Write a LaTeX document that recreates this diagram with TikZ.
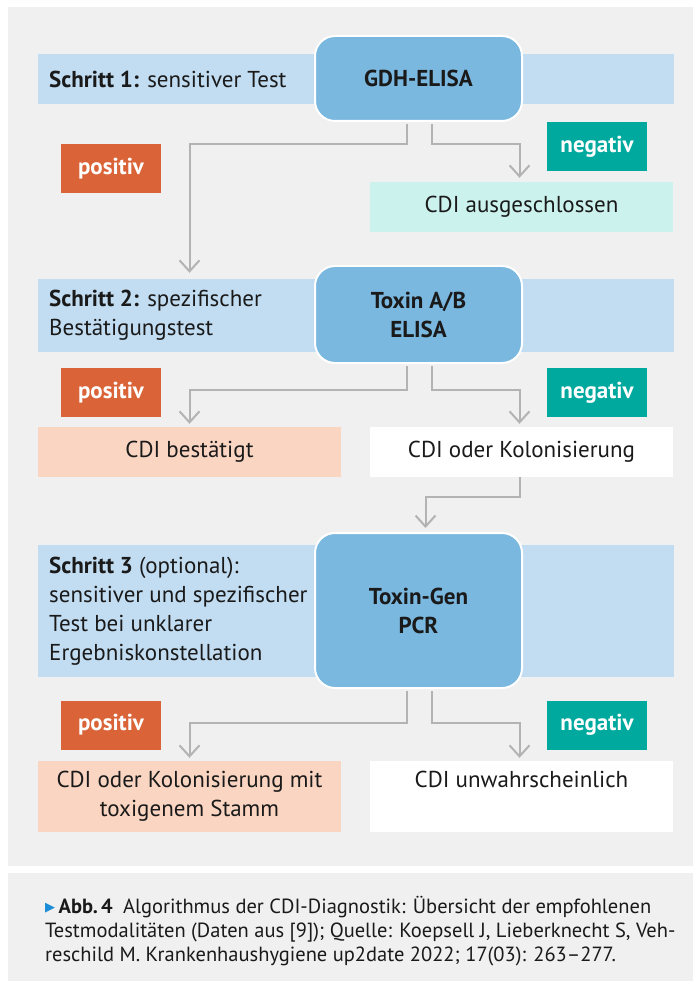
\documentclass[tikz,border=0pt]{standalone}
\usepackage{fontspec}
\setmainfont{PT Sans}
\newfontfamily\symfont{DejaVu Sans}
\usetikzlibrary{arrows.meta}
\definecolor{bggray}{HTML}{F0F0F0}
\definecolor{bandblue}{HTML}{C2DDF2}
\definecolor{boxblue}{HTML}{7AB8E0}
\definecolor{posorange}{HTML}{DA6438}
\definecolor{negteal}{HTML}{00A99E}
\definecolor{negcyan}{HTML}{CCF2EE}
\definecolor{pospeach}{HTML}{FAD5C2}
\definecolor{linegray}{HTML}{B3B3B3}
\definecolor{ink}{HTML}{1A1A1A}
\definecolor{capblue}{HTML}{1A8CD8}

\begin{document}
\begin{tikzpicture}[x=1pt,y=-1pt,
    band/.style={fill=bandblue, inner sep=0pt, minimum width=636pt},
    steptext/.style={anchor=west, align=left, inner sep=0pt, text=ink,
      font=\fontsize{23}{29}\selectfont},
    testbox/.style={fill=boxblue, draw=white, line width=2pt, rounded corners=20pt,
      minimum width=207pt, align=center, text=ink,
      font=\bfseries\fontsize{23}{29}\selectfont},
    tag/.style={minimum width=100pt, minimum height=49pt, inner sep=0pt,
      text=white, font=\bfseries\fontsize{23}{24}\selectfont},
    result/.style={minimum width=303pt, inner sep=0pt, align=center, text=ink,
      font=\fontsize{23}{29}\selectfont},
    conn/.style={draw=linegray, line width=2pt,
      -{Straight Barb[length=11pt,width=20pt]}}]
    \useasboundingbox (0,0) rectangle (693,981);
    \fill[bggray] (8,7) rectangle (693,866);
    \fill[bggray] (8,873) rectangle (693,981);

    % step bands
    \node[band, minimum height=50pt] (band1) at (356,79) {};
    \node[band, minimum height=73pt] (band2) at (356,315.5) {};
    \node[band, minimum height=132pt] (band3) at (356,611) {};
    \node[steptext] (step1) at (49,79) {\textbf{Schritt 1:} sensitiver Test};
    \node[steptext] (step2) at (49,315.5) {\textbf{Schritt 2:} spezifischer\\Bestätigungstest};
    \node[steptext] (step3) at (49,611) {\textbf{Schritt 3} (optional):\\sensitiver und spezifischer\\Test bei unklarer\\Ergebniskonstellation};

    % tests
    \node[testbox, minimum height=85pt] (gdh) at (418.5,78.5) {GDH-ELISA};
    \node[testbox, minimum height=97pt] (toxab) at (418.5,314.5) {Toxin A/B\\ELISA};
    \node[testbox, minimum height=155pt] (pcr) at (418.5,610.5) {Toxin-Gen\\PCR};

    % positiv / negativ
    \node[tag, fill=posorange] (pos1) at (111,168.5) {positiv};
    \node[tag, fill=negteal] (neg1) at (597,146.5) {negativ};
    \node[tag, fill=posorange] (pos2) at (111,392.5) {positiv};
    \node[tag, fill=negteal] (neg2) at (597,392.5) {negativ};
    \node[tag, fill=posorange] (pos3) at (111,725) {positiv};
    \node[tag, fill=negteal] (neg3) at (597,725) {negativ};

    % results
    \node[result, fill=negcyan, minimum height=50pt] (ausg) at (521.5,207) {CDI ausgeschlossen};
    \node[result, fill=pospeach, minimum height=50pt] (best) at (189.5,452) {CDI bestätigt};
    \node[result, fill=white, minimum height=50pt] (kol) at (521.5,452) {CDI oder Kolonisierung};
    \node[result, fill=pospeach, minimum height=71pt] (stamm) at (189.5,796.5) {CDI oder Kolonisierung mit\\toxigenem Stamm};
    \node[result, fill=white, minimum height=71pt] (unw) at (521.5,796.5) {CDI unwahrscheinlich\\\vphantom{toxigenem Stamm}};

    % connectors
    \draw[conn] ([xshift=-12pt,yshift=-2pt]gdh.south) -- ++(0,20) -| ([yshift=6pt]band2.north -| best.north);
    \draw[conn] ([xshift=13pt,yshift=-2pt]gdh.south) -- ++(0,20) -| ([xshift=-2pt,yshift=4pt]ausg.north);
    \draw[conn] ([xshift=-12pt,yshift=-2pt]toxab.south) -- ++(0,24) -| ([yshift=3pt]best.north);
    \draw[conn] ([xshift=13pt,yshift=-2pt]toxab.south) -- ++(0,24) -| ([xshift=-2pt,yshift=3pt]kol.north);
    \draw[conn] ([xshift=-2pt]kol.south) -- ++(0,20) -| ([xshift=7pt,yshift=4pt]pcr.north);
    \draw[conn] ([xshift=-12pt,yshift=-2pt]pcr.south) -- ++(0,32) -| ([yshift=3pt]stamm.north);
    \draw[conn] ([xshift=13pt,yshift=-2pt]pcr.south) -- ++(0,32) -| ([xshift=-2pt,yshift=3pt]unw.north);

    % caption
    \node[anchor=north west, align=left, inner sep=0pt, text=ink,
      font=\fontsize{20.5}{24}\selectfont] (caption) at (45,896)
      {\raisebox{1.5pt}{\symfont\fontsize{13}{13}\selectfont\color{capblue}▶}\,\textbf{Abb.\,4}\enspace Algorithmus der CDI-Diagnostik: Übersicht der empfohlenen\\
       Testmodalitäten (Daten aus [9]); Quelle: Koepsell J, Lieberknecht S, Veh-\\
       reschild M. Krankenhaushygiene up2date 2022; 17(03): 263--277.};
\end{tikzpicture}
\end{document}
